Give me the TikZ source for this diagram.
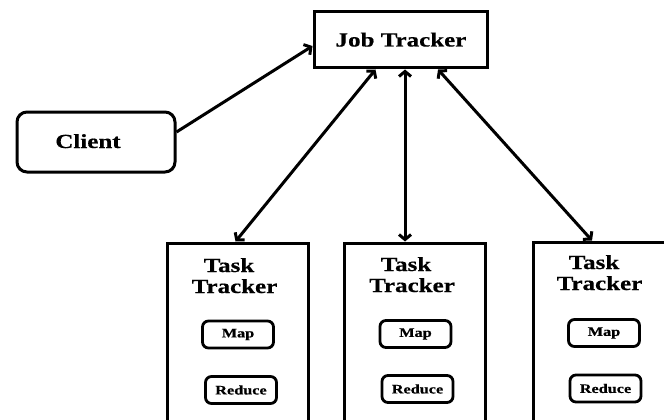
\documentclass[tikz,border=0pt]{standalone}
\usepackage{fontspec}
\newfontfamily\diagfont[FakeStretch=1.25,FakeBold=0.6]{Liberation Serif}
\usetikzlibrary{arrows.meta}

\begin{document}
\begin{tikzpicture}[x=1pt,y=-1pt,
  box/.style={draw,line width=3pt,inner sep=0pt},
  heading/.style={font=\diagfont\bfseries\fontsize{20}{22}\selectfont,inner sep=0pt,anchor=base},
  tracker/.style={box,minimum width=141pt,minimum height=200pt},
  unit/.style={draw,line width=2.8pt,rounded corners=6pt,minimum width=71pt,minimum height=27pt,
    inner sep=0pt,font=\diagfont\bfseries\fontsize{13}{15}\selectfont},
  link/.style={line width=3pt,
    {Straight Barb[length=5pt,width=12pt]}-{Straight Barb[length=5pt,width=12pt]}},
  onelink/.style={line width=3pt,-{Straight Barb[length=5pt,width=12pt]}}
]
\useasboundingbox (0,0) rectangle (664,420);
\clip (0,0) rectangle (664,420);

% master and client
\node[box,minimum width=173pt,minimum height=56pt] (jt) at (400.5,40) {};
\node[heading] (jtlabel) at (401,46.5) {Job Tracker};
\node[box,rounded corners=10pt,minimum width=158pt,minimum height=60pt] (client) at (96,142) {};
\node[heading] (clientlabel) at (88,148) {Client};

% task trackers (they run past the lower edge)
\node[tracker] (tt1) at (237.5,343) {};
\node[tracker] (tt2) at (414.5,343) {};
\node[tracker] (tt3) at (603.5,342) {};

\node[heading] (t1a) at (229,272) {Task};
\node[heading] (t1b) at (234.5,293) {Tracker};
\node[heading] (t2a) at (406,271) {Task};
\node[heading] (t2b) at (412,292) {Tracker};
\node[heading] (t3a) at (594,269) {Task};
\node[heading] (t3b) at (599.5,290) {Tracker};

\node[unit] (map1) at (238,334.5) {Map};
\node[unit] (red1) at (241,390) {Reduce};
\node[unit] (map2) at (415.5,334) {Map};
\node[unit] (red2) at (417.5,389) {Reduce};
\node[unit] (map3) at (604,333) {Map};
\node[unit] (red3) at (605.5,388.5) {Reduce};

% connectors
\draw[onelink] ([yshift=10pt]client.east) -- ([yshift=-6pt]jt.west);
\draw[link] ([xshift=-25pt]jt.south) -- ([xshift=-2pt]tt1.north);
\draw[link] ([xshift=4.5pt]jt.south) -- ([xshift=-9.5pt]tt2.north);
\draw[link] ([xshift=37.5pt]jt.south) -- ([xshift=-11.5pt]tt3.north);
\end{tikzpicture}
\end{document}
